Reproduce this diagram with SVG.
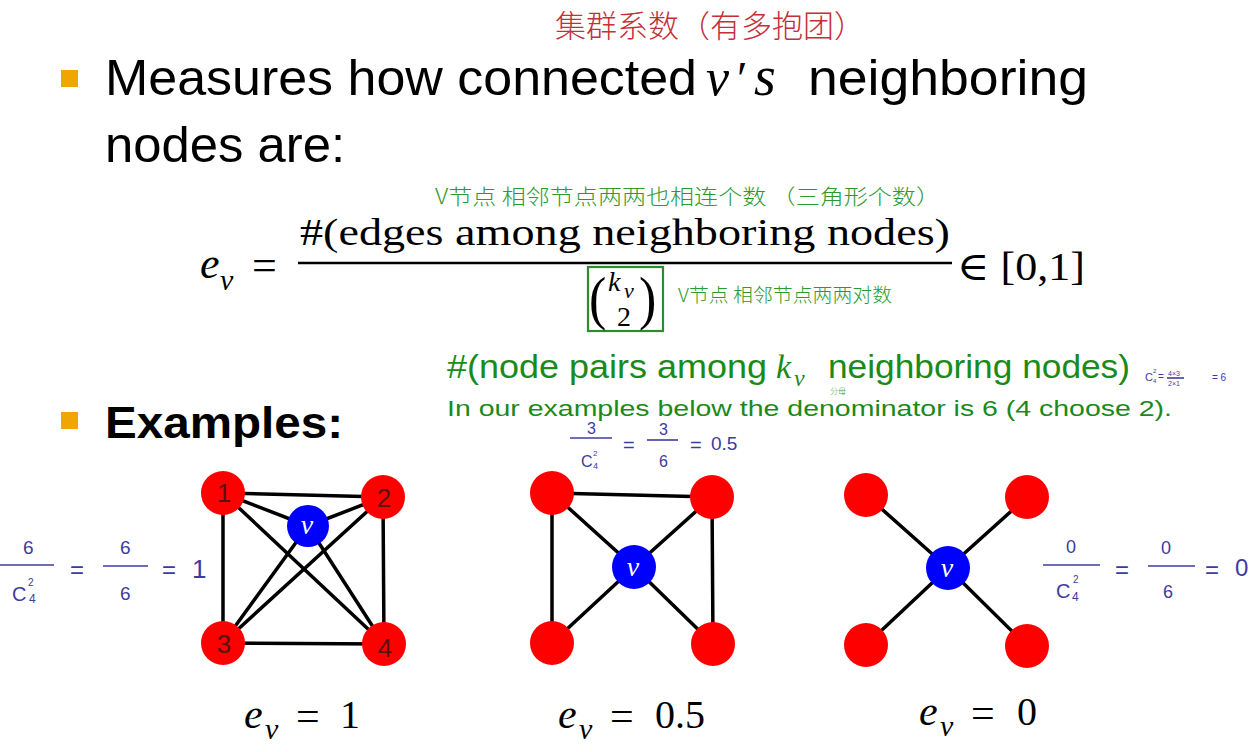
<svg xmlns="http://www.w3.org/2000/svg" width="1255" height="752" viewBox="0 0 1255 752">
<style>
.main{font-family:"Liberation Sans","Open Sans",sans-serif;fill:#000}
.math{font-family:"Liberation Serif","DejaVu Serif",serif;fill:#000}
.mi{font-family:"Liberation Serif","DejaVu Serif",serif;font-style:italic;fill:#000}
.grn{font-family:"Liberation Sans",Arial,sans-serif;fill:#1a8a1a}
.hgrn{font-family:"Noto Sans CJK SC","Noto Sans",sans-serif;fill:#2e9a2e;font-weight:300}
.hred{font-family:"Noto Sans CJK SC","Noto Sans",sans-serif;fill:#c4303a;font-weight:300}
.hb{font-family:"Liberation Sans","Noto Sans",sans-serif;fill:#3c3ca0}
.bar{stroke:#3c3ca0;stroke-width:1.6}
.bullet{fill:#f0a500}
.edge{stroke:#000;stroke-width:3.5;stroke-linecap:round}
.red{fill:#ff0000}
.blue{fill:#0000ff}
.vl{font-family:"Liberation Serif",serif;font-style:italic;fill:#fff;font-size:28px;text-anchor:middle}
.num{font-family:"Liberation Sans",sans-serif;fill:#5a1010;font-size:26px;text-anchor:middle;font-weight:300}
</style>
<rect width="1255" height="752" fill="#fff"/>

<!-- red handwritten title -->
<text class="hred" x="555" y="37" font-size="31" textLength="310" lengthAdjust="spacingAndGlyphs">集群系数（有多抱团）</text>

<!-- bullet 1 -->
<rect class="bullet" x="61" y="70" width="17" height="17"/>
<text class="main" x="105" y="95" font-size="50" textLength="592" lengthAdjust="spacingAndGlyphs">Measures how connected</text>
<text class="mi" x="706" y="95" font-size="52">v</text>
<text class="math" x="737" y="95" font-size="48">′</text>
<text class="mi" x="754" y="95" font-size="56">s</text>
<text class="main" x="808" y="95" font-size="50" textLength="280" lengthAdjust="spacingAndGlyphs">neighboring</text>
<text class="main" x="105" y="162" font-size="50" textLength="240" lengthAdjust="spacingAndGlyphs">nodes are:</text>

<!-- green annotation 1 -->
<text class="hgrn" x="435" y="204" font-size="21" textLength="505" lengthAdjust="spacingAndGlyphs">V节点 相邻节点两两也相连个数 （三角形个数）</text>

<!-- formula -->
<text class="mi" x="200" y="278" font-size="44">e</text>
<text class="mi" x="220" y="290" font-size="30">v</text>
<text class="math" x="252" y="280" font-size="44">=</text>
<text class="math" x="300" y="245" font-size="38" textLength="650" lengthAdjust="spacingAndGlyphs">#(edges among neighboring nodes)</text>
<line x1="298" y1="263" x2="952" y2="263" stroke="#000" stroke-width="2.5"/>
<rect x="588" y="267" width="75" height="64" fill="none" stroke="#2e8b2e" stroke-width="2.2"/>
<text class="math" x="589" y="318" font-size="52" transform="translate(589 318) scale(1 1.15) translate(-589 -318)">(</text>
<text class="math" x="639" y="318" font-size="52" transform="translate(639 318) scale(1 1.15) translate(-639 -318)">)</text>
<text class="mi" x="608" y="291" font-size="28">k</text>
<text class="mi" x="624" y="298" font-size="22">v</text>
<text class="math" x="617" y="326" font-size="28">2</text>
<text class="math" x="957" y="280" font-size="40" textLength="128" lengthAdjust="spacingAndGlyphs">∈ [0,1]</text>

<!-- green annotation 2 -->
<text class="hgrn" x="678" y="302" font-size="19" textLength="214" lengthAdjust="spacingAndGlyphs">V节点 相邻节点两两对数</text>

<!-- green explanation -->
<text class="grn" x="447" y="378" font-size="33" textLength="320" lengthAdjust="spacingAndGlyphs">#(node pairs among</text>
<text class="mi" x="776" y="378" font-size="34" style="fill:#1a8a1a">k</text>
<text class="mi" x="794" y="386" font-size="24" style="fill:#1a8a1a">v</text>
<text class="grn" x="828" y="378" font-size="33" textLength="302" lengthAdjust="spacingAndGlyphs">neighboring nodes)</text>
<text class="hgrn" x="830" y="394" font-size="8">分母</text>
<text class="grn" x="447" y="416" font-size="22" textLength="725" lengthAdjust="spacingAndGlyphs">In our examples below the denominator is 6 (4 choose 2).</text>

<!-- small blue C formula -->
<g class="hb">
<text x="1145" y="381" font-size="11">C</text>
<text x="1153" y="373" font-size="6">2</text>
<text x="1153" y="383" font-size="6">4</text>
<text x="1158" y="380" font-size="10">=</text>
<text x="1168" y="376" font-size="7">4×3</text>
<text x="1168" y="386" font-size="7">2×1</text>
<text x="1212" y="381" font-size="10">= 6</text>
</g>
<line x1="1167" y1="378" x2="1184" y2="378" class="bar" stroke-width="0.8"/>

<!-- bullet 2 -->
<rect class="bullet" x="61" y="412" width="17" height="17"/>
<text class="main" x="105" y="438" font-size="45" font-weight="bold" textLength="238" lengthAdjust="spacingAndGlyphs">Examples:</text>

<!-- blue fractions: middle -->
<g class="hb">
<text x="587" y="434" font-size="16">3</text>
<text x="581" y="467" font-size="16">C</text>
<text x="593" y="456" font-size="8">2</text>
<text x="593" y="469" font-size="9">4</text>
<text x="623" y="452" font-size="20">=</text>
<text x="659" y="435" font-size="16">3</text>
<text x="659" y="467" font-size="16">6</text>
<text x="690" y="452" font-size="20">=</text>
<text x="711" y="450" font-size="19">0.5</text>
</g>
<line class="bar" x1="570" y1="438" x2="612" y2="438"/>
<line class="bar" x1="647" y1="440" x2="678" y2="440"/>

<!-- blue fractions: left -->
<g class="hb">
<text x="23" y="554" font-size="19">6</text>
<text x="12" y="601" font-size="20">C</text>
<text x="28" y="586" font-size="10">2</text>
<text x="29" y="603" font-size="12">4</text>
<text x="70" y="578" font-size="24">=</text>
<text x="120" y="554" font-size="19">6</text>
<text x="120" y="600" font-size="19">6</text>
<text x="162" y="578" font-size="24">=</text>
<text x="192" y="578" font-size="26">1</text>
</g>
<line class="bar" x1="0" y1="565" x2="54" y2="565"/>
<line class="bar" x1="103" y1="566" x2="148" y2="566"/>

<!-- blue fractions: right -->
<g class="hb">
<text x="1066" y="553" font-size="18">0</text>
<text x="1056" y="598" font-size="20">C</text>
<text x="1073" y="583" font-size="10">2</text>
<text x="1072" y="601" font-size="12">4</text>
<text x="1115" y="578" font-size="24">=</text>
<text x="1161" y="554" font-size="18">0</text>
<text x="1163" y="598" font-size="18">6</text>
<text x="1205" y="578" font-size="24">=</text>
<text x="1235" y="576" font-size="24">0</text>
</g>
<line class="bar" x1="1043" y1="565" x2="1100" y2="565"/>
<line class="bar" x1="1148" y1="566" x2="1195" y2="566"/>

<!-- connectors -->
<g id="connectors">
<line class="edge" x1="223" y1="493" x2="383" y2="497"/>
<line class="edge" x1="223" y1="493" x2="223" y2="643"/>
<line class="edge" x1="383" y1="497" x2="384" y2="644"/>
<line class="edge" x1="223" y1="643" x2="384" y2="644"/>
<line class="edge" x1="223" y1="493" x2="308" y2="526"/>
<line class="edge" x1="383" y1="497" x2="308" y2="526"/>
<line class="edge" x1="223" y1="643" x2="308" y2="526"/>
<line class="edge" x1="384" y1="644" x2="308" y2="526"/>
<line class="edge" x1="223" y1="493" x2="384" y2="644"/>
<line class="edge" x1="383" y1="497" x2="223" y2="643"/>

<line class="edge" x1="552" y1="493" x2="712" y2="497"/>
<line class="edge" x1="552" y1="493" x2="552" y2="643"/>
<line class="edge" x1="712" y1="497" x2="713" y2="644"/>
<line class="edge" x1="552" y1="493" x2="634" y2="567"/>
<line class="edge" x1="712" y1="497" x2="634" y2="567"/>
<line class="edge" x1="552" y1="643" x2="634" y2="567"/>
<line class="edge" x1="713" y1="644" x2="634" y2="567"/>

<line class="edge" x1="866" y1="495" x2="948" y2="568"/>
<line class="edge" x1="1027" y1="497" x2="948" y2="568"/>
<line class="edge" x1="866" y1="645" x2="948" y2="568"/>
<line class="edge" x1="1027" y1="646" x2="948" y2="568"/>
</g>

<!-- graph 1 nodes -->
<g id="g1-n1"><circle class="red" cx="223" cy="493" r="22"/><text class="num" x="224" y="502">1</text></g>
<g id="g1-n2"><circle class="red" cx="383" cy="497" r="22"/><text class="num" x="384" y="507">2</text></g>
<g id="g1-n3"><circle class="red" cx="223" cy="643" r="22"/><text class="num" x="224" y="653">3</text></g>
<g id="g1-n4"><circle class="red" cx="384" cy="644" r="22"/><text class="num" x="385" y="657">4</text></g>
<g id="g1-v"><circle class="blue" cx="308" cy="526" r="21"/><text class="vl" x="307" y="534">v</text></g>

<!-- graph 2 nodes -->
<g id="g2-tl"><circle class="red" cx="552" cy="493" r="22"/></g>
<g id="g2-tr"><circle class="red" cx="712" cy="497" r="22"/></g>
<g id="g2-bl"><circle class="red" cx="552" cy="643" r="22"/></g>
<g id="g2-br"><circle class="red" cx="713" cy="644" r="22"/></g>
<g id="g2-v"><circle class="blue" cx="634" cy="567" r="22"/><text class="vl" x="633" y="576">v</text></g>

<!-- graph 3 nodes -->
<g id="g3-tl"><circle class="red" cx="866" cy="495" r="22"/></g>
<g id="g3-tr"><circle class="red" cx="1027" cy="497" r="22"/></g>
<g id="g3-bl"><circle class="red" cx="866" cy="645" r="22"/></g>
<g id="g3-br"><circle class="red" cx="1027" cy="646" r="22"/></g>
<g id="g3-v"><circle class="blue" cx="948" cy="568" r="22"/><text class="vl" x="947" y="577">v</text></g>

<!-- bottom labels -->
<text class="mi" x="244" y="728" font-size="42">e</text>
<text class="mi" x="265" y="739" font-size="30">v</text>
<text class="math" x="296" y="730" font-size="42">=</text>
<text class="math" x="340" y="728" font-size="40">1</text>

<text class="mi" x="558" y="728" font-size="42">e</text>
<text class="mi" x="579" y="739" font-size="30">v</text>
<text class="math" x="610" y="730" font-size="42">=</text>
<text class="math" x="655" y="728" font-size="40">0.5</text>

<text class="mi" x="919" y="725" font-size="42">e</text>
<text class="mi" x="940" y="736" font-size="30">v</text>
<text class="math" x="971" y="727" font-size="42">=</text>
<text class="math" x="1017" y="725" font-size="40">0</text>
</svg>
